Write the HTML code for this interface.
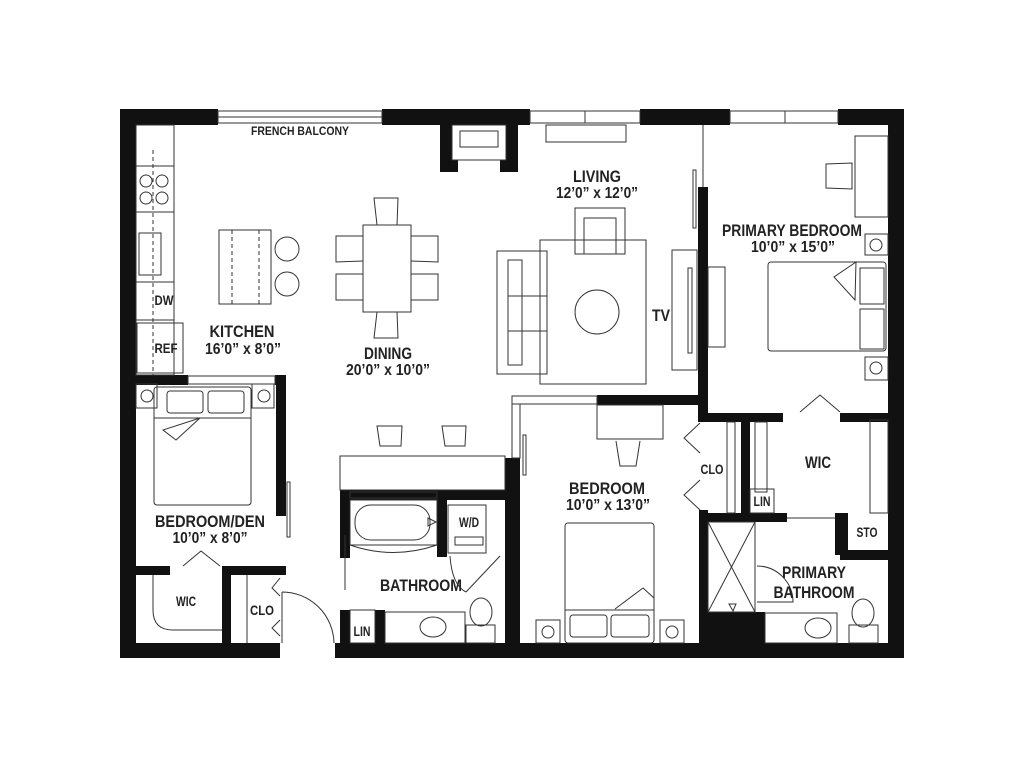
<!DOCTYPE html>
<html><head><meta charset="utf-8"><style>
html,body{margin:0;padding:0;background:#fff;}
svg{display:block;}
text{font-family:"Liberation Sans",sans-serif;font-weight:bold;fill:#222;text-anchor:middle;}
</style></head><body>
<svg width="1024" height="769" viewBox="0 0 1024 769" xmlns="http://www.w3.org/2000/svg">
<g fill="#111">
<rect x="120" y="109" width="98" height="16"/>
<rect x="382" y="109" width="148" height="16"/>
<rect x="640" y="109" width="90" height="16"/>
<rect x="838" y="109" width="66" height="16"/>
<rect x="120" y="109" width="16" height="549"/>
<rect x="888" y="109" width="16" height="549"/>
<rect x="120" y="643" width="160" height="15"/>
<rect x="335" y="643" width="569" height="15"/>
<rect x="440" y="125" width="12" height="47"/>
<rect x="506" y="125" width="12" height="47"/>
<rect x="440" y="160" width="18" height="12"/>
<rect x="500" y="160" width="18" height="12"/>
<rect x="136" y="375" width="52" height="10"/>
<rect x="275" y="375" width="11" height="10"/>
<rect x="276" y="375" width="10" height="141"/>
<rect x="136" y="566" width="34" height="9"/>
<rect x="222" y="566" width="64" height="9"/>
<rect x="222" y="566" width="9" height="77"/>
<rect x="340" y="490" width="180" height="10"/>
<rect x="340" y="490" width="10" height="68"/>
<rect x="340" y="610" width="10" height="33"/>
<rect x="375" y="610" width="10" height="33"/>
<rect x="437" y="490" width="10" height="67"/>
<rect x="505" y="458" width="15" height="185"/>
<rect x="597" y="395" width="111" height="10"/>
<rect x="698" y="187" width="10" height="226"/>
<rect x="698" y="413" width="85" height="9"/>
<rect x="840" y="413" width="48" height="9"/>
<rect x="699" y="510" width="9" height="133"/>
<rect x="699" y="513" width="88" height="9"/>
<rect x="741" y="420" width="9" height="93"/>
<rect x="708" y="612" width="57" height="31"/>
<rect x="835" y="513" width="13" height="42"/>
<rect x="840" y="550" width="48" height="10"/>
</g>
<g fill="none" stroke="#333" stroke-width="1">
<rect x="218" y="111" width="164" height="12"/><line x1="218" y1="117" x2="382" y2="117"/>
<rect x="530" y="111" width="110" height="12"/><line x1="585" y1="111" x2="585" y2="123"/>
<rect x="730" y="111" width="108" height="12"/><line x1="785" y1="111" x2="785" y2="123"/>
<rect x="188" y="376" width="87" height="8"/>
<rect x="512" y="396" width="85" height="8"/>
<rect x="350" y="492" width="87" height="6"/>
<line x1="703" y1="125" x2="703" y2="187"/>
<rect x="452" y="125" width="54" height="35"/><rect x="460" y="131" width="38" height="16"/>
<rect x="136" y="125" width="38" height="250"/>
<line x1="153" y1="150" x2="153" y2="375" stroke-dasharray="4,3"/>
<rect x="136" y="166" width="38" height="46"/>
<circle cx="146" cy="181" r="6"/><circle cx="162" cy="181" r="6"/><circle cx="146" cy="198" r="6"/><circle cx="162" cy="198" r="6"/>
<rect x="139" y="233" width="22" height="42"/>
<rect x="136" y="282" width="38" height="38"/>
<rect x="137" y="323" width="46" height="50"/>
<rect x="219" y="230" width="52" height="74"/>
<line x1="232" y1="230" x2="232" y2="304" stroke-dasharray="4,3"/><line x1="259" y1="230" x2="259" y2="304" stroke-dasharray="4,3"/>
<circle cx="287" cy="249" r="12"/><circle cx="287" cy="284" r="12"/>
<rect x="363" y="225" width="48" height="87"/>
<path d="M377 225 L374 198 L398 198 L397 225 M377 312 L374 338 L398 338 L397 312"/>
<path d="M363 236 L336 236 L336 262 L363 261 M363 274 L336 274 L336 300 L363 300"/>
<path d="M411 236 L438 236 L438 262 L411 261 M411 274 L438 274 L438 300 L411 300"/>
<rect x="546" y="125" width="80" height="17"/>
<rect x="540" y="240" width="106" height="144"/>
<rect x="497" y="251" width="50" height="123"/><rect x="508" y="260" width="14" height="105"/>
<line x1="508" y1="296" x2="547" y2="296"/><line x1="508" y1="331" x2="547" y2="331"/>
<rect x="575" y="208" width="50" height="46"/><rect x="584" y="218" width="32" height="36"/>
<circle cx="597" cy="312" r="22"/>
<rect x="672" y="250" width="25" height="120"/><rect x="688" y="268" width="4" height="85"/>
<rect x="693" y="170" width="3" height="58"/>
<rect x="708" y="267" width="17" height="80"/>
<rect x="855" y="136" width="33" height="81"/>
<path d="M826 164 L852 163 L852 189 L826 188 Z"/>
<rect x="768" y="262" width="118" height="89" rx="3"/>
<rect x="860" y="268" width="24" height="36"/><rect x="860" y="309" width="24" height="40"/>
<path d="M856 262 L834 277 L855 300 Z"/>
<rect x="865" y="234" width="23" height="21"/><circle cx="876" cy="245" r="6"/>
<rect x="865" y="357" width="23" height="23"/><circle cx="876" cy="368" r="6"/>
<path d="M800 412 L820 395 L840 412"/>
<rect x="870" y="420" width="18" height="93"/>
<rect x="597" y="405" width="66" height="34"/>
<path d="M616 441 L620 466 L636 466 L640 441"/>
<rect x="512" y="404" width="8" height="54"/>
<rect x="523" y="435" width="3" height="40"/>
<rect x="565" y="523" width="89" height="120" rx="3"/>
<line x1="565" y1="610" x2="654" y2="610"/>
<rect x="570" y="615" width="37" height="22" rx="3"/><rect x="611" y="615" width="38" height="22" rx="3"/>
<path d="M615 609 L643 588 L654 598"/>
<rect x="536" y="620" width="24" height="23"/><circle cx="548" cy="632" r="6"/>
<rect x="660" y="620" width="24" height="23"/><circle cx="672" cy="632" r="6"/>
<path d="M700 423 L684 438 L700 453 M700 480 L684 495 L700 510"/>
<rect x="727" y="422" width="8" height="91"/>
<rect x="755" y="422" width="12" height="70"/>
<rect x="750" y="489" width="24" height="24"/>
<rect x="708" y="522" width="47" height="90"/><path d="M708 522 L755 612 M755 522 L708 612"/>
<path d="M729 604 L736 604 L733 611 Z"/>
<line x1="787" y1="518" x2="835" y2="518"/>
<path d="M757 566 A36 36 0 0 1 793 602 L757 602"/>
<rect x="765" y="613" width="72" height="30"/>
<ellipse cx="818" cy="628" rx="13" ry="10"/>
<ellipse cx="863" cy="613" rx="11" ry="14"/><rect x="849" y="625" width="29" height="18"/>
<rect x="154" y="387" width="97" height="118" rx="3"/>
<line x1="154" y1="418" x2="251" y2="418"/>
<rect x="167" y="391" width="36" height="22" rx="3"/><rect x="208" y="391" width="36" height="22" rx="3"/>
<path d="M200 418 L163 430 L176 440 Z"/>
<rect x="136" y="384" width="21" height="24"/><circle cx="147" cy="396" r="6"/>
<rect x="252" y="384" width="22" height="24"/><circle cx="264" cy="396" r="6"/>
<rect x="287" y="482" width="3" height="55"/>
<path d="M183 566 L201 551 L220 566"/>
<path d="M153 575 L153 610 Q153 630 173 630 L222 630"/>
<line x1="247" y1="575" x2="247" y2="643"/>
<path d="M280 578 L272 588 L280 596 M280 620 L272 628 L280 636"/>
<path d="M282 592 A52 52 0 0 1 334 643 M282 592 L282 643"/>
<rect x="340" y="456" width="165" height="34"/>
<path d="M380 446 L377 426 L402 426 L401 446 Z M445 446 L442 426 L466 426 L465 446 Z"/>
<rect x="350" y="500" width="87" height="45"/><rect x="355" y="505" width="75" height="35" rx="16"/>
<path d="M428 518 L436 522 L428 526 Z"/>
<path d="M350 545 Q393 560 437 545"/>
<line x1="345" y1="535" x2="345" y2="590"/>
<rect x="448" y="505" width="38" height="48"/><rect x="455" y="537" width="28" height="8"/>
<path d="M500 556 L466 592 M450 556 Q452 585 466 592"/>
<rect x="350" y="610" width="25" height="33"/>
<rect x="385" y="612" width="80" height="31"/>
<ellipse cx="433" cy="627" rx="13" ry="10"/>
<ellipse cx="481" cy="612" rx="11" ry="14"/><rect x="466" y="625" width="29" height="18"/>
</g>
<g lengthAdjust="spacingAndGlyphs">
<text x="300" y="135" font-size="12" font-weight="normal" textLength="98" lengthAdjust="spacingAndGlyphs">FRENCH BALCONY</text>
<text x="164" y="305" font-size="14" textLength="19" lengthAdjust="spacingAndGlyphs">DW</text>
<text x="166" y="353" font-size="14" textLength="23" lengthAdjust="spacingAndGlyphs">REF</text>
<text x="242" y="337" font-size="17" textLength="65" lengthAdjust="spacingAndGlyphs">KITCHEN</text>
<text x="243" y="354" font-size="16" textLength="76" lengthAdjust="spacingAndGlyphs">16’0” x 8’0”</text>
<text x="388" y="359" font-size="17" textLength="48" lengthAdjust="spacingAndGlyphs">DINING</text>
<text x="388" y="375" font-size="16" textLength="84" lengthAdjust="spacingAndGlyphs">20’0” x 10’0”</text>
<text x="597" y="182" font-size="17" textLength="48" lengthAdjust="spacingAndGlyphs">LIVING</text>
<text x="597" y="198" font-size="16" textLength="82" lengthAdjust="spacingAndGlyphs">12’0” x 12’0”</text>
<text x="661" y="321" font-size="17" textLength="18" lengthAdjust="spacingAndGlyphs">TV</text>
<text x="792" y="236" font-size="17" textLength="140" lengthAdjust="spacingAndGlyphs">PRIMARY BEDROOM</text>
<text x="793" y="252" font-size="16" textLength="84" lengthAdjust="spacingAndGlyphs">10’0” x 15’0”</text>
<text x="210" y="527" font-size="17" textLength="110" lengthAdjust="spacingAndGlyphs">BEDROOM/DEN</text>
<text x="210" y="543" font-size="16" textLength="75" lengthAdjust="spacingAndGlyphs">10’0” x 8’0”</text>
<text x="186" y="606" font-size="14" textLength="20" lengthAdjust="spacingAndGlyphs">WIC</text>
<text x="262" y="615" font-size="14" textLength="24" lengthAdjust="spacingAndGlyphs">CLO</text>
<text x="421" y="591" font-size="17" textLength="82" lengthAdjust="spacingAndGlyphs">BATHROOM</text>
<text x="362" y="636" font-size="14" textLength="17" lengthAdjust="spacingAndGlyphs">LIN</text>
<text x="469" y="527" font-size="14" textLength="20" lengthAdjust="spacingAndGlyphs">W/D</text>
<text x="607" y="494" font-size="17" textLength="76" lengthAdjust="spacingAndGlyphs">BEDROOM</text>
<text x="608" y="510" font-size="16" textLength="84" lengthAdjust="spacingAndGlyphs">10’0” x 13’0”</text>
<text x="712" y="474" font-size="14" textLength="23" lengthAdjust="spacingAndGlyphs">CLO</text>
<text x="818" y="468" font-size="17" textLength="26" lengthAdjust="spacingAndGlyphs">WIC</text>
<text x="762" y="506" font-size="14" textLength="17" lengthAdjust="spacingAndGlyphs">LIN</text>
<text x="867" y="537" font-size="14" textLength="21" lengthAdjust="spacingAndGlyphs">STO</text>
<text x="814" y="578" font-size="17" textLength="64" lengthAdjust="spacingAndGlyphs">PRIMARY</text>
<text x="814" y="598" font-size="17" textLength="81" lengthAdjust="spacingAndGlyphs">BATHROOM</text>
</g>
</svg>
</body></html>
